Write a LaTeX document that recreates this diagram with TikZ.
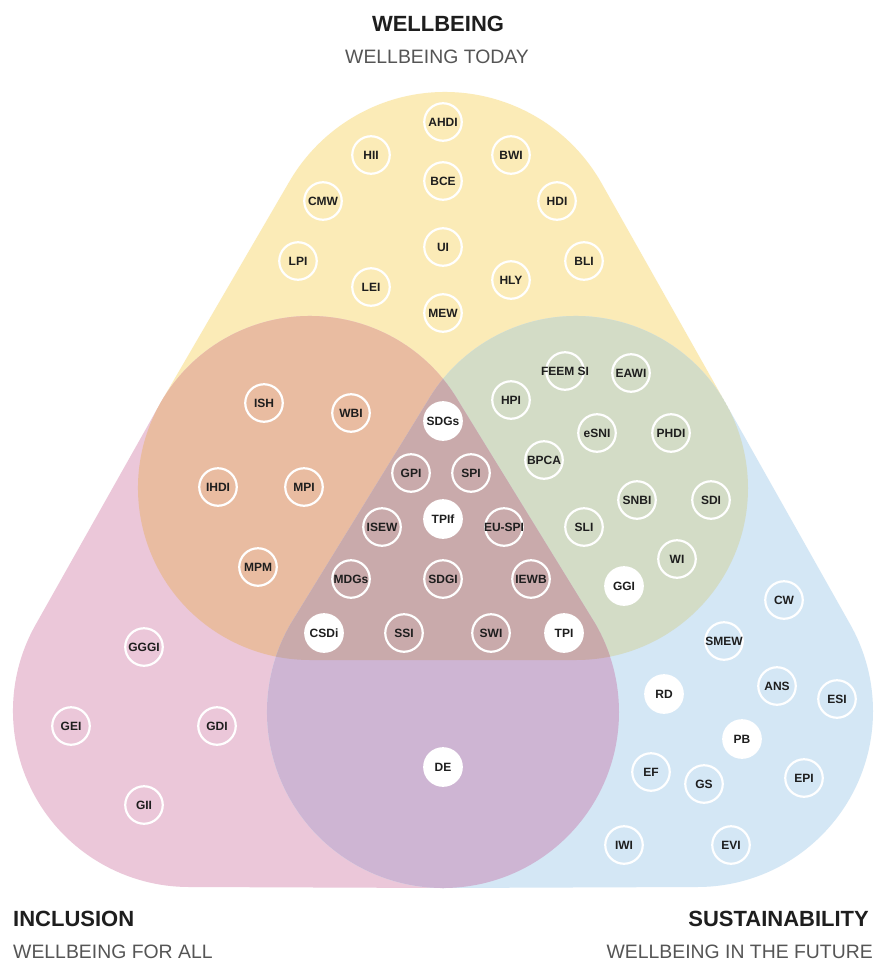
\documentclass[tikz,border=0pt]{standalone}
\usepackage{fontspec}
\setmainfont{Liberation Sans}
\usetikzlibrary{calc}
\definecolor{cyel}{HTML}{FBEBB7}
\definecolor{cpink}{HTML}{EBC7D9}
\definecolor{cblue}{HTML}{D4E7F5}
\definecolor{corange}{HTML}{E9BCA1}
\definecolor{cgreen}{HTML}{D3DCC6}
\definecolor{cpurple}{HTML}{CEB5D3}
\definecolor{cbrown}{HTML}{C9AAAB}
\definecolor{ctext}{HTML}{1E1E1E}
\definecolor{csub}{HTML}{555555}
% rounded triangles (top corner, bottom-left corner, bottom-right corner)
\def\pathW{($(cT)+(30:180pt)$) arc[start angle=30,end angle=150,radius=180pt] -- ($(cL)+(150:172pt)$) arc[start angle=150,end angle=270,radius=172pt] -- ($(cR)+(270:172pt)$) arc[start angle=270,end angle=390,radius=172pt] -- cycle}
\def\pathI{($(cL)+(30:172pt)$) arc[start angle=30,end angle=150,radius=172pt] -- ($(cBL)+(150:176pt)$) arc[start angle=150,end angle=270,radius=176pt] -- ($(cB)+(270:176pt)$) arc[start angle=270,end angle=390,radius=176pt] -- cycle}
\def\pathS{($(cR)+(30:172pt)$) arc[start angle=30,end angle=150,radius=172pt] -- ($(cB)+(150:176pt)$) arc[start angle=150,end angle=270,radius=176pt] -- ($(cBR)+(270:176pt)$) arc[start angle=270,end angle=390,radius=176pt] -- cycle}
\tikzset{
  ring/.style={circle, draw=white, line width=2.2pt, minimum size=37.5pt, inner sep=0pt},
  ringw/.style={ring, fill=white},
  every label/.style={font=\bfseries\fontsize{12}{12}\selectfont, text=ctext, inner sep=0pt},
  ttl/.style={font=\bfseries\fontsize{22}{24}\selectfont, text=ctext, inner sep=0pt},
  sub/.style={font=\fontsize{19.4}{22}\selectfont, text=csub, inner sep=0pt}
}
\newcommand\ix[3]{\node[ring, label={center:#3}] (#1) at (#2) {};}
\newcommand\iw[3]{\node[ringw, label={center:#3}] (#1) at (#2) {};}
\begin{document}
\begin{tikzpicture}[x=1pt,y=1pt]
\fill[white] (0,0) rectangle (877,-961);
\useasboundingbox (0,0) rectangle (877,-961);
\coordinate (cT) at (445,-272);
\coordinate (cL) at (310,-488);
\coordinate (cR) at (576,-488);
\coordinate (cB) at (443,-712);
\coordinate (cBL) at (189,-711);
\coordinate (cBR) at (697,-711);
% sets
\fill[cyel] \pathW;
\fill[cpink] \pathI;
\fill[cblue] \pathS;
\begin{scope}
  \clip \pathW;
  \fill[corange] \pathI;
  \fill[cgreen] \pathS;
\end{scope}
\begin{scope}
  \clip \pathI;
  \fill[cpurple] \pathS;
\end{scope}
\begin{scope}
  \clip \pathW;
  \clip \pathI;
  \fill[cbrown] \pathS;
\end{scope}
% wellbeing
\ix{ahdi}{443,-122}{AHDI}
\ix{hii}{371,-155}{HII}
\ix{bwi}{511,-155}{BWI}
\ix{bce}{443,-181}{BCE}
\ix{cmw}{323,-201}{CMW}
\ix{hdi}{557,-201}{HDI}
\ix{ui}{443,-247}{UI}
\ix{lpi}{298,-261}{LPI}
\ix{lei}{371,-287}{LEI}
\ix{hly}{511,-280}{HLY}
\ix{bli}{584,-261}{BLI}
\ix{mew}{443,-313}{MEW}
% wellbeing + inclusion
\ix{ish}{264,-403}{ISH}
\ix{wbi}{351,-413}{WBI}
\ix{ihdi}{218,-487}{IHDI}
\ix{mpi}{304,-487}{MPI}
\ix{mpm}{258,-567}{MPM}
% all three
\iw{sdgs}{443,-421}{SDGs}
\ix{gpi}{411,-473}{GPI}
\ix{spi}{471,-473}{SPI}
\ix{isew}{382,-527}{ISEW}
\iw{tpif}{443,-519}{TPIf}
\ix{euspi}{504,-527}{EU-SPI}
\ix{mdgs}{351,-579}{MDGs}
\ix{sdgi}{443,-579}{SDGI}
\ix{iewb}{531,-579}{IEWB}
\iw{csdi}{324,-633}{CSDi}
\ix{ssi}{404,-633}{SSI}
\ix{swi}{491,-633}{SWI}
\iw{tpi}{564,-633}{TPI}
% wellbeing + sustainability
\ix{feem}{565,-371}{FEEM SI}
\ix{eawi}{631,-373}{EAWI}
\ix{hpi}{511,-400}{HPI}
\ix{esni}{597,-433}{eSNI}
\ix{phdi}{671,-433}{PHDI}
\ix{bpca}{544,-460}{BPCA}
\ix{snbi}{637,-500}{SNBI}
\ix{sdi}{711,-500}{SDI}
\ix{sli}{584,-527}{SLI}
\ix{wi}{677,-559}{WI}
\iw{ggi}{624,-586}{GGI}
% sustainability
\ix{cw}{784,-600}{CW}
\ix{smew}{724,-641}{SMEW}
\iw{rd}{664,-694}{RD}
\ix{ans}{777,-686}{ANS}
\ix{esi}{837,-699}{ESI}
\iw{pb}{742,-739}{PB}
\ix{ef}{651,-772}{EF}
\ix{gs}{704,-784}{GS}
\ix{epi}{804,-778}{EPI}
\ix{iwi}{624,-845}{IWI}
\ix{evi}{731,-845}{EVI}
% inclusion
\ix{gggi}{144,-647}{GGGI}
\ix{gei}{71,-726}{GEI}
\ix{gdi}{217,-726}{GDI}
\ix{gii}{144,-805}{GII}
% inclusion + sustainability
\iw{de}{443,-767}{DE}
% titles
\node[ttl, anchor=base] (t1) at (438,-31) {WELLBEING};
\node[sub, anchor=base] (s1) at (437,-63) {WELLBEING TODAY};
\node[ttl, anchor=base west] (t2) at (13,-926) {INCLUSION};
\node[sub, anchor=base west] (s2) at (13,-958) {WELLBEING FOR ALL};
\node[ttl, anchor=base east] (t3) at (869,-926) {SUSTAINABILITY};
\node[sub, anchor=base east] (s3) at (873,-958) {WELLBEING IN THE FUTURE};
\end{tikzpicture}
\end{document}
